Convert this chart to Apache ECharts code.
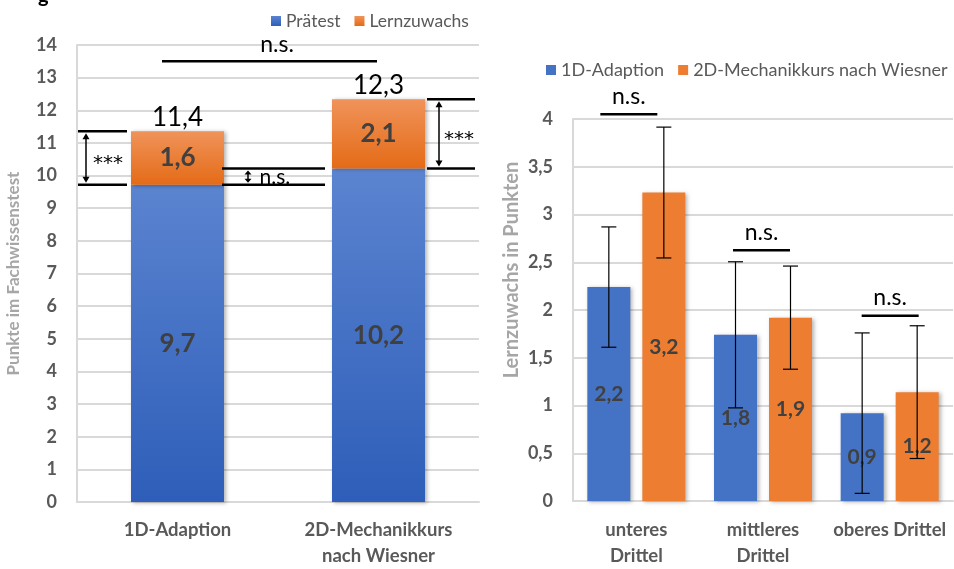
<!DOCTYPE html>
<html><head><meta charset="utf-8">
<script src="https://cdn.jsdelivr.net/npm/echarts@6/dist/echarts.min.js"></script>
<style>html,body{margin:0;padding:0;background:#fff}#c{width:954px;height:569px}</style>
</head><body><div id="c"></div>
<script>
// ---- left chart data ----
const groupsL = ['1D-Adaption', '2D-Mechanikkurs\nnach Wiesner'];
const pretest = [9.72, 10.22];
const gain = [1.64, 2.12];
const topLineLevel = 13.5;          // n.s. bar between groups
const topTextLevel = 14.0;
// ---- right chart data ----
const thirds = ['unteres\nDrittel', 'mittleres\nDrittel', 'oberes Drittel'];
const gain1D = [2.24, 1.74, 0.92];
const gain2D = [3.23, 1.92, 1.14];
const label1D = ['2,2', '1,8', '0,9'];
const label2D = ['3,2', '1,9', '1,2'];
const err1D = [0.63, 0.765, 0.84];
const err2D = [0.685, 0.54, 0.695];
const sigLevels = [4.05, 2.625, 1.94];

const FONT = 'Lato, "Open Sans", sans-serif';
const GREY = '#595959';
const GRID = '#d9d9d9';
const comma = v => String(v).replace('.', ',');

const blueGrad = new echarts.graphic.LinearGradient(0, 0, 0, 1, [
  {offset: 0, color: '#5b84d0'}, {offset: 1, color: '#2e5eb9'}]);
const orangeGrad = new echarts.graphic.LinearGradient(0, 0, 0, 1, [
  {offset: 0, color: '#f0935a'}, {offset: 1, color: '#e46b17'}]);
const shadow = {shadowBlur: 4, shadowColor: 'rgba(0,0,0,0.3)', shadowOffsetX: 2, shadowOffsetY: 1};

const BW_R = 43, GAP_R = 12;
const errOffset = (BW_R + GAP_R) / 2;

function errSeries(vals, errs, sign) {
  return {
    type: 'custom', xAxisIndex: 1, yAxisIndex: 1, z: 10, silent: true,
    encode: {x: 0, y: [1, 2]},
    data: vals.map((v, i) => [i, v - errs[i], v + errs[i]]),
    renderItem: (params, api) => {
      const x = api.coord([api.value(0), 0])[0] + sign * errOffset;
      const lo = api.coord([api.value(0), api.value(1)])[1];
      const hi = api.coord([api.value(0), api.value(2)])[1];
      const cw = 7.5, st = {stroke: '#000', lineWidth: 1.2};
      return {type: 'group', children: [
        {type: 'line', shape: {x1: x, y1: hi, x2: x, y2: lo}, style: st},
        {type: 'line', shape: {x1: x - cw, y1: hi, x2: x + cw, y2: hi}, style: st},
        {type: 'line', shape: {x1: x - cw, y1: lo, x2: x + cw, y2: lo}, style: st}
      ]};
    }
  };
}

const option = {
  animation: false,
  textStyle: {fontFamily: FONT},
  legend: [
    {data: ['Prätest', 'Lernzuwachs'], left: 266, top: 7, width: 300, icon: 'rect', itemWidth: 10, itemHeight: 10, itemGap: 14,
     textStyle: {fontSize: 17.5, color: GREY, fontFamily: FONT}},
    {data: ['1D-Adaption', '2D-Mechanikkurs nach Wiesner'], left: 546, top: 61, width: 440, padding: 0, icon: 'rect', itemWidth: 10, itemHeight: 10, itemGap: 14,
     textStyle: {fontSize: 18, color: GREY, fontFamily: FONT}}
  ],
  grid: [
    {left: 77, top: 45, width: 402, height: 461},
    {left: 573, top: 119, width: 380, height: 384}
  ],
  xAxis: [
    {type: 'category', gridIndex: 0, data: groupsL, axisTick: {show: false},
     axisLine: {lineStyle: {color: GRID, width: 2}},
     axisLabel: {interval: 0, fontSize: 18.5, fontWeight: 'bold', color: GREY, lineHeight: 26, margin: 15, fontFamily: FONT}},
    {type: 'category', gridIndex: 1, data: thirds, axisTick: {show: false},
     axisLine: {lineStyle: {color: GRID, width: 2}},
     axisLabel: {interval: 0, fontSize: 18.5, fontWeight: 'bold', color: GREY, lineHeight: 26, margin: 16, fontFamily: FONT}}
  ],
  yAxis: [
    {type: 'value', gridIndex: 0, min: 0, max: 14, interval: 1,
     axisLine: {show: true, lineStyle: {color: GRID, width: 2}},
     splitLine: {lineStyle: {color: GRID, width: 2}},
     axisLabel: {fontSize: 18, fontWeight: 'bold', color: GREY, margin: 20, fontFamily: FONT},
     name: 'Punkte im Fachwissenstest', nameLocation: 'middle', nameGap: 55,
     nameTextStyle: {fontSize: 17, fontWeight: 'bold', color: '#a6a6a6', fontFamily: FONT}},
    {type: 'value', gridIndex: 1, min: 0, max: 4, interval: 0.5,
     axisLine: {show: true, lineStyle: {color: GRID, width: 2}},
     splitLine: {lineStyle: {color: GRID, width: 2}},
     axisLabel: {fontSize: 18, fontWeight: 'bold', color: GREY, margin: 20, formatter: comma, fontFamily: FONT}}
  ],
  series: [
    {name: 'Prätest', type: 'bar', stack: 'L', xAxisIndex: 0, yAxisIndex: 0, barWidth: 93, data: pretest,
     itemStyle: Object.assign({color: blueGrad}, shadow),
     label: {show: true, position: 'inside', formatter: p => comma(p.value.toFixed(1)), fontSize: 26, fontWeight: 'bold', color: '#404040', fontFamily: FONT}},
    {name: 'Lernzuwachs', type: 'bar', stack: 'L', xAxisIndex: 0, yAxisIndex: 0, barWidth: 93, data: gain,
     itemStyle: Object.assign({color: orangeGrad}, shadow),
     label: {show: true, position: 'inside', formatter: p => comma(p.value.toFixed(1)), fontSize: 26, fontWeight: 'bold', color: '#404040', fontFamily: FONT}},
    {name: '1D-Adaption', type: 'bar', xAxisIndex: 1, yAxisIndex: 1, barWidth: BW_R, barGap: (GAP_R / BW_R * 100) + '%', data: gain1D,
     itemStyle: Object.assign({color: '#4472c4'}, shadow),
     label: {show: true, position: 'inside', formatter: p => label1D[p.dataIndex], fontSize: 21, fontWeight: 'bold', color: '#404040', fontFamily: FONT}},
    {name: '2D-Mechanikkurs nach Wiesner', type: 'bar', xAxisIndex: 1, yAxisIndex: 1, barWidth: BW_R, data: gain2D,
     itemStyle: Object.assign({color: '#ed7d31'}, shadow),
     label: {show: true, position: 'inside', formatter: p => label2D[p.dataIndex], fontSize: 21, fontWeight: 'bold', color: '#404040', fontFamily: FONT}},
    errSeries(gain1D, err1D, -1),
    errSeries(gain2D, err2D, 1)
  ]
};

const chart = echarts.init(document.getElementById('c'));
chart.setOption(option);

function px(g, cat, val) { return chart.convertToPixel({xAxisIndex: g, yAxisIndex: g}, [cat, val]); }
const G = [];
const thick = {stroke: '#000', lineWidth: 2.5};
function hline(x1, x2, y) { G.push({type: 'line', z: 100, shape: {x1, y1: y, x2, y2: y}, style: thick}); }
function txt(x, y, s, size, align, extra) {
  G.push({type: 'text', z: 100, x, y, style: Object.assign({text: s, fontSize: size, fontFamily: FONT, fill: '#000', align: align || 'center', verticalAlign: 'middle'}, extra || {})});
}
function darrow(x, y1, y2, h) {
  h = h || 6;
  G.push({type: 'line', z: 100, shape: {x1: x, y1: y1 + 2, x2: x, y2: y2 - 2}, style: {stroke: '#000', lineWidth: 1.5}});
  G.push({type: 'polygon', z: 100, shape: {points: [[x, y1], [x - 3.5, y1 + h], [x + 3.5, y1 + h]]}, style: {fill: '#000'}});
  G.push({type: 'polygon', z: 100, shape: {points: [[x, y2], [x - 3.5, y2 - h], [x + 3.5, y2 - h]]}, style: {fill: '#000'}});
}
const STAR = {fontFamily: '"DejaVu Sans", sans-serif'};

// left chart annotations
const c0 = px(0, 0, 0)[0], c1 = px(0, 1, 0)[0];
const tot = pretest.map((v, i) => v + gain[i]);
tot.forEach((t, i) => {
  const p = px(0, i, t);
  txt(p[0], p[1] - 14, comma(t.toFixed(1)), 26);
});
hline(c0 - 15.5, c1 - 1.5, px(0, 0, topLineLevel)[1]);
txt(c0 + 99.5, px(0, 0, topTextLevel)[1], 'n.s.', 23);
// 1D pretest -> 1D total
let yT = px(0, 0, tot[0])[1], yB = px(0, 0, pretest[0])[1];
hline(c0 - 99.5, c0 - 50.5, yT); hline(c0 - 99.5, c0 - 50.5, yB);
darrow(c0 - 91.5, yT + 2, yB - 2);
txt(c0 - 69.5, (yT + yB) / 2 + 6, '***', 20, 'center', STAR);
// pretest 1D vs 2D
yT = px(0, 1, pretest[1])[1]; yB = px(0, 0, pretest[0])[1];
hline(c0 + 44.5, c1 - 53.5, yT); hline(c0 + 44.5, c1 - 53.5, yB);
darrow(c0 + 70.5, yT + 2, yB - 2, 4);
txt(c0 + 82, (yT + yB) / 2 + 1, 'n.s.', 21, 'left');
// 2D pretest -> 2D total
yT = px(0, 1, tot[1])[1]; yB = px(0, 1, pretest[1])[1];
hline(c1 + 48.5, c1 + 96.5, yT); hline(c1 + 48.5, c1 + 96.5, yB);
darrow(c1 + 60.5, yT + 2, yB - 2);
txt(c1 + 80.5, (yT + yB) / 2 + 6, '***', 20, 'center', STAR);

// right chart annotations
const sigSpan = [[-36, 21], [-30, 27], [-28, 29]];
sigLevels.forEach((lv, i) => {
  const p = px(1, i, lv);
  hline(p[0] + sigSpan[i][0], p[0] + sigSpan[i][1], p[1]);
  txt(p[0] + (sigSpan[i][0] + sigSpan[i][1]) / 2, p[1] - 18, 'n.s.', 23);
});
// right y axis title
G.push({type: 'text', z: 100, x: 512, y: 270, rotation: Math.PI / 2,
  style: {text: 'Lernzuwachs in Punkten', fontSize: 20, fontWeight: 'bold', fontFamily: FONT, fill: '#a6a6a6', align: 'center', verticalAlign: 'middle'}});
// cropped caption fragment at top-left
G.push({type: 'text', z: 100, x: 38, y: -14, style: {text: 'g', fontSize: 20, fontWeight: 'bold', fontFamily: FONT, fill: '#000'}});

chart.setOption({graphic: G});
</script></body></html>
